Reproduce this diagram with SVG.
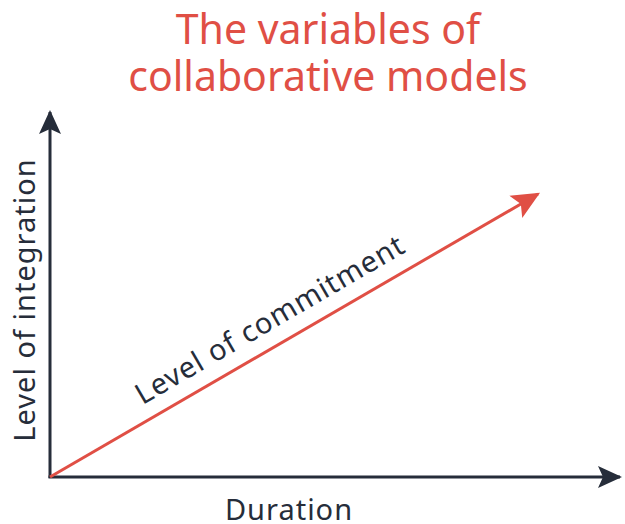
<svg xmlns="http://www.w3.org/2000/svg" width="625" height="524" viewBox="0 0 625 524">
  <style>
    .title { font-family: "Noto Sans", "Open Sans", sans-serif; font-size: 41px; fill: #e04f45; text-anchor: middle; }
    .label { font-family: "Noto Sans", "Open Sans", sans-serif; font-size: 29px; letter-spacing: 1px; fill: #262d3a; text-anchor: middle; }
    .axis { stroke: #262d3a; stroke-width: 3; fill: none; }
    .trend { stroke: #e04f45; stroke-width: 3; fill: none; }
  </style>
  <defs>
    <marker id="axisHead" viewBox="0 0 24 24" refX="22" refY="12" markerWidth="24" markerHeight="24" markerUnits="userSpaceOnUse" orient="auto">
      <path d="M0,1 L24,12 L0,23 L5,12 Z" fill="#262d3a"/>
    </marker>
    <marker id="trendHead" viewBox="0 0 24 24" refX="22" refY="12" markerWidth="28" markerHeight="28" markerUnits="userSpaceOnUse" orient="auto">
      <path d="M0,1 L24,12 L0,23 L5,12 Z" fill="#e04f45"/>
    </marker>
  </defs>

  <g id="title">
    <text class="title" x="328" y="44">The variables of</text>
    <text class="title" x="328" y="91">collaborative models</text>
  </g>

  <g id="connectors">
    <line id="y-axis" class="axis" x1="50" y1="478" x2="50" y2="112" marker-end="url(#axisHead)"/>
    <line id="x-axis" class="axis" x1="48.5" y1="477" x2="620" y2="477" marker-end="url(#axisHead)"/>
    <line id="commitment" class="trend" x1="50" y1="477" x2="538" y2="194" marker-end="url(#trendHead)"/>
  </g>

  <g id="label-duration">
    <text class="label" x="289" y="520">Duration</text>
  </g>
  <g id="label-integration">
    <text class="label" transform="translate(35,300) rotate(-90)">Level of integration</text>
  </g>
  <g id="label-commitment">
    <text class="label" transform="translate(275,328) rotate(-30.2)">Level of commitment</text>
  </g>
</svg>
